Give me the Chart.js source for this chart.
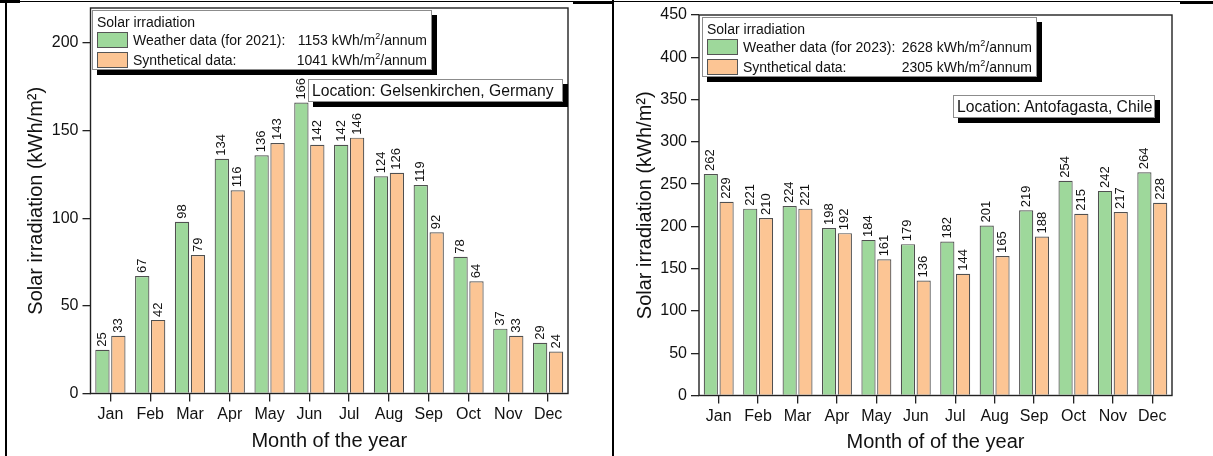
<!DOCTYPE html>
<html>
<head>
<meta charset="utf-8">
<script src="https://cdn.jsdelivr.net/npm/chart.js@4/dist/chart.umd.min.js"></script>
<style>
  body { margin: 0; background: #fff; width: 1213px; height: 456px; overflow: hidden; position: relative;
         font-family: "Liberation Sans", Arial, sans-serif; color: #111; }
  canvas { position: absolute; top: 0; }
  .rule { position: absolute; background: #000; }
  .box { position: absolute; background: #fff; border: 1px solid #8c8c8c; box-shadow: 5px 5px 0 #000; box-sizing: border-box; }
  .ltitle { position: absolute; left: 4px; top: 3px; font-size: 14px; line-height: 16px; white-space: nowrap; }
  .row { position: absolute; left: 4px; height: 17px; white-space: nowrap; }
  .sw { position: absolute; left: 0; top: 0; width: 31px; height: 16px; box-sizing: border-box; border: 1.5px solid #555; }
  .lab { position: absolute; left: 36px; top: 0; font-size: 14px; line-height: 17px; }
  .val { position: absolute; top: 0; font-size: 14px; line-height: 17px; text-align: right; }
  sup { font-size: 9px; line-height: 0; vertical-align: 6px; }
  .loc { font-size: 15.7px; line-height: 21px; padding-left: 3px; white-space: nowrap; }
</style>
</head>
<body>
<canvas id="left" width="612" height="456" style="left:0;width:612px;height:456px"></canvas>
<canvas id="right" width="599" height="456" style="left:614px;width:599px;height:456px"></canvas>

<!-- table rules around the two panels -->
<div class="rule" style="left:5px;top:1px;width:1208px;height:1px"></div>
<div class="rule" style="left:0;top:0;width:20px;height:3px"></div>
<div class="rule" style="left:573px;top:1px;width:40px;height:3px"></div>
<div class="rule" style="left:1180px;top:1px;width:33px;height:3px"></div>
<div class="rule" style="left:5px;top:0;width:2px;height:456px"></div>
<div class="rule" style="left:612px;top:0;width:2px;height:456px"></div>

<div id="legendLeft" class="box" style="left:92px;top:10px;width:340px;height:60px"></div>
<div id="legendRight" class="box" style="left:702px;top:17px;width:335px;height:60px"></div>
<div class="box loc" style="left:308px;top:79px;width:255px;height:23px">Location: Gelsenkirchen, Germany</div>
<div class="box loc" style="left:953px;top:95px;width:202px;height:23px">Location: Antofagasta, Chile</div>

<script>
// ---- data ----
const months = ['Jan', 'Feb', 'Mar', 'Apr', 'May', 'Jun', 'Jul', 'Aug', 'Sep', 'Oct', 'Nov', 'Dec'];

const gelsenkirchenWeather = [25, 67, 98, 134, 136, 166, 142, 124, 119, 78, 37, 29];
const gelsenkirchenSynthetic = [33, 42, 79, 116, 143, 142, 146, 126, 92, 64, 33, 24];
const gelsenkirchenTicks = [0, 50, 100, 150, 200];
const gelsenkirchenTotals = { weather: 1153, synthetic: 1041, year: 2021 };

const antofagastaWeather = [262, 221, 224, 198, 184, 179, 182, 201, 219, 254, 242, 264];
const antofagastaSynthetic = [229, 210, 221, 192, 161, 136, 144, 165, 188, 215, 217, 228];
const antofagastaTicks = [0, 50, 100, 150, 200, 250, 300, 350, 400, 450];
const antofagastaTotals = { weather: 2628, synthetic: 2305, year: 2023 };

// ---- styling ----
const FONT = '"Liberation Sans", Arial, sans-serif';
const GREEN = '#9ed89b';
const ORANGE = '#fcc594';
const EDGE = '#505050';
const INK = '#111';

// legend panels
function buildLegend(el, totals, width) {
  el.innerHTML =
    '<div class="ltitle">Solar irradiation</div>' +
    '<div class="row" style="top:21px;width:' + (width - 10) + 'px">' +
      '<span class="sw" style="background:' + GREEN + '"></span>' +
      '<span class="lab">Weather data (for ' + totals.year + '):</span>' +
      '<span class="val" style="right:0">' + totals.weather + ' kWh/m<sup>2</sup>/annum</span></div>' +
    '<div class="row" style="top:41px;width:' + (width - 10) + 'px">' +
      '<span class="sw" style="background:' + ORANGE + '"></span>' +
      '<span class="lab">Synthetical data:</span>' +
      '<span class="val" style="right:0">' + totals.synthetic + ' kWh/m<sup>2</sup>/annum</span></div>';
}
buildLegend(document.getElementById('legendLeft'), gelsenkirchenTotals, 340);
buildLegend(document.getElementById('legendRight'), antofagastaTotals, 335);

// frame around the plotting area
const framePlugin = {
  id: 'frame',
  afterDatasetsDraw(chart) {
    const a = chart.chartArea, ctx = chart.ctx;
    ctx.save();
    ctx.strokeStyle = '#222';
    ctx.lineWidth = 1.4;
    ctx.strokeRect(a.left, a.top, a.right - a.left, a.bottom - a.top);
    ctx.restore();
  }
};

// vertical value labels on top of every bar
const valueLabels = {
  id: 'valueLabels',
  afterDatasetsDraw(chart) {
    const ctx = chart.ctx;
    ctx.save();
    ctx.fillStyle = INK;
    ctx.font = '13px ' + FONT;
    ctx.textAlign = 'left';
    ctx.textBaseline = 'middle';
    chart.data.datasets.forEach((ds, i) => {
      chart.getDatasetMeta(i).data.forEach((bar, j) => {
        ctx.save();
        ctx.translate(bar.x, bar.y - 3);
        ctx.rotate(-Math.PI / 2);
        ctx.fillText(String(ds.data[j]), 0, 0);
        ctx.restore();
      });
    });
    ctx.restore();
  }
};

function makeChart(id, weather, synthetic, yMax, yTicks, layout) {
  const tickStyle = { display: true, drawOnChartArea: false, drawTicks: true, tickLength: 8,
                      color: '#222', tickColor: '#222', lineWidth: 1.3 };
  return new Chart(document.getElementById(id), {
    type: 'bar',
    data: {
      labels: months,
      datasets: [
        { data: weather, backgroundColor: GREEN, borderColor: EDGE, borderWidth: 1.2,
          categoryPercentage: 0.8, barPercentage: 0.9 },
        { data: synthetic, backgroundColor: ORANGE, borderColor: EDGE, borderWidth: 1.2,
          categoryPercentage: 0.8, barPercentage: 0.9 }
      ]
    },
    options: {
      responsive: false,
      animation: false,
      devicePixelRatio: 1,
      layout: { padding: { left: 0, right: layout.right, top: layout.top, bottom: 0 } },
      plugins: { legend: { display: false }, tooltip: { enabled: false } },
      scales: {
        x: {
          grid: Object.assign({ offset: false }, tickStyle),
          border: { display: false },
          ticks: { font: { size: 16, family: FONT }, color: INK, padding: 3, maxRotation: 0, autoSkip: false },
          title: { display: true, text: layout.xTitle, font: { size: 20, family: FONT }, color: INK,
                   padding: { top: 0, bottom: layout.xTitlePad } },
          afterFit(s) { s.height = layout.xHeight; s.paddingLeft = 0; s.paddingRight = 0; }
        },
        y: {
          min: 0, max: yMax,
          grid: tickStyle,
          border: { display: false },
          ticks: { font: { size: 16, family: FONT }, color: INK, padding: 4 },
          afterBuildTicks(s) { s.ticks = yTicks.map(v => ({ value: v })); },
          title: { display: true, text: 'Solar irradiation (kWh/m\u00b2)', font: { size: 20, family: FONT },
                   color: INK, padding: { top: layout.yTitlePad, bottom: 0 } },
          afterFit(s) { s.width = layout.yWidth; s.paddingTop = 0; s.paddingBottom = 0; }
        }
      }
    },
    plugins: [framePlugin, valueLabels]
  });
}

makeChart('left', gelsenkirchenWeather, gelsenkirchenSynthetic, 220, gelsenkirchenTicks,
  { right: 44, top: 8, xHeight: 62.5, yWidth: 90.5, yTitlePad: 24, xTitlePad: 3, xTitle: 'Month of the year' });
makeChart('right', antofagastaWeather, antofagastaSynthetic, 450, antofagastaTicks,
  { right: 41, top: 15, xHeight: 60.5, yWidth: 85, yTitlePad: 19.5, xTitlePad: 2, xTitle: 'Month of of the year' });
</script>
</body>
</html>
